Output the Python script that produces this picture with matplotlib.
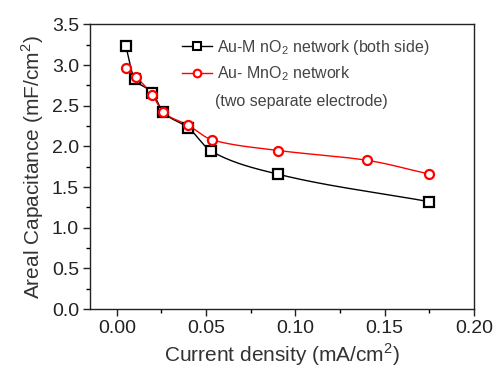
import numpy as np
import matplotlib
matplotlib.use("Agg")
import matplotlib.pyplot as plt
from matplotlib.ticker import MultipleLocator

plt.rcParams['font.family'] = ['Liberation Sans', 'DejaVu Sans']
plt.rcParams['mathtext.fontset'] = 'custom'
plt.rcParams['mathtext.rm'] = 'Liberation Sans'

# Current density (mA/cm^2) and areal capacitance (mF/cm^2)
x_both = [0.005, 0.010, 0.020, 0.026, 0.040, 0.053, 0.090, 0.175]
c_both = [3.24, 2.83, 2.66, 2.42, 2.23, 1.94, 1.66, 1.32]

x_sep = [0.005, 0.0105, 0.020, 0.026, 0.040, 0.0535, 0.0905, 0.140, 0.175]
c_sep = [2.96, 2.86, 2.63, 2.42, 2.26, 2.08, 1.95, 1.83, 1.66]

label_both = "Au-M nO$_2$ network (both side)"
label_sep = "Au- MnO$_2$ network"
label_sep2 = "(two separate electrode)"


def pchip(x, y, n=300):
    """Monotone piecewise cubic Hermite curve through the points."""
    x = np.asarray(x, float)
    y = np.asarray(y, float)
    h = np.diff(x)
    d = np.diff(y) / h
    m = np.zeros_like(y)
    for k in range(1, len(x) - 1):
        if d[k - 1] * d[k] > 0:
            w1 = 2 * h[k] + h[k - 1]
            w2 = h[k] + 2 * h[k - 1]
            m[k] = (w1 + w2) / (w1 / d[k - 1] + w2 / d[k])
    m[0] = d[0]
    m[-1] = d[-1]
    xs = np.linspace(x[0], x[-1], n)
    idx = np.clip(np.searchsorted(x, xs) - 1, 0, len(x) - 2)
    t = (xs - x[idx]) / h[idx]
    h00 = 2 * t**3 - 3 * t**2 + 1
    h10 = t**3 - 2 * t**2 + t
    h01 = -2 * t**3 + 3 * t**2
    h11 = t**3 - t**2
    ys = (h00 * y[idx] + h10 * h[idx] * m[idx]
          + h01 * y[idx + 1] + h11 * h[idx] * m[idx + 1])
    return xs, ys


fig = plt.figure(figsize=(4.98, 3.71), dpi=100)
ax = fig.add_axes([0.1807, 0.167, 0.771, 0.767])

xs, ys = pchip(x_both, c_both)
ax.plot(xs, ys, color='black', lw=1.0, zorder=2)
ax.plot(x_both, c_both, ls='none', marker='s', ms=7, mfc='white',
        mec='black', mew=1.6, zorder=3)

xs, ys = pchip(x_sep, c_sep)
ax.plot(xs, ys, color='red', lw=1.0, zorder=2)
ax.plot(x_sep, c_sep, ls='none', marker='o', ms=6.5, mfc='white',
        mec='red', mew=1.6, zorder=4)

# legend handles
h1, = ax.plot([], [], color='black', lw=1.0, marker='s', ms=6, mfc='white',
              mec='black', mew=1.5)
h2, = ax.plot([], [], color='red', lw=1.0, marker='o', ms=5.5, mfc='white',
              mec='red', mew=1.5)
leg = ax.legend([h1, h2], [label_both, label_sep], loc='upper left',
                bbox_to_anchor=(0.222, 0.975), frameon=False, fontsize=11.5,
                handlelength=1.9, handletextpad=0.3, labelspacing=0.45,
                borderaxespad=0)
for t in leg.get_texts():
    t.set_color('#444444')
ax.text(0.325, 0.73, label_sep2, transform=ax.transAxes, fontsize=11.5,
        color='#444444', va='center', ha='left')

ax.set_xlim(-0.015, 0.20)
ax.set_ylim(0.0, 3.5)
ax.xaxis.set_major_locator(MultipleLocator(0.05))
ax.xaxis.set_minor_locator(MultipleLocator(0.025))
ax.yaxis.set_major_locator(MultipleLocator(0.5))
ax.yaxis.set_minor_locator(MultipleLocator(0.25))
ax.xaxis.set_major_formatter(plt.FuncFormatter(lambda v, p: f"{v:.2f}"))
ax.yaxis.set_major_formatter(plt.FuncFormatter(lambda v, p: f"{v:.1f}"))
ax.tick_params(which='major', direction='out', length=5, width=1,
               labelsize=14, colors='#222222', pad=3)
ax.tick_params(which='minor', direction='out', length=3, width=1)
for s in ax.spines.values():
    s.set_linewidth(1.0)
    s.set_color('#222222')

ax.set_xlabel("Current density (mA/cm$^2$)", fontsize=15, color='#333333',
              labelpad=3)
ax.set_ylabel("Areal Capacitance (mF/cm$^2$)", fontsize=15, color='#333333',
              labelpad=4)

fig.savefig("out.png", dpi=100)
